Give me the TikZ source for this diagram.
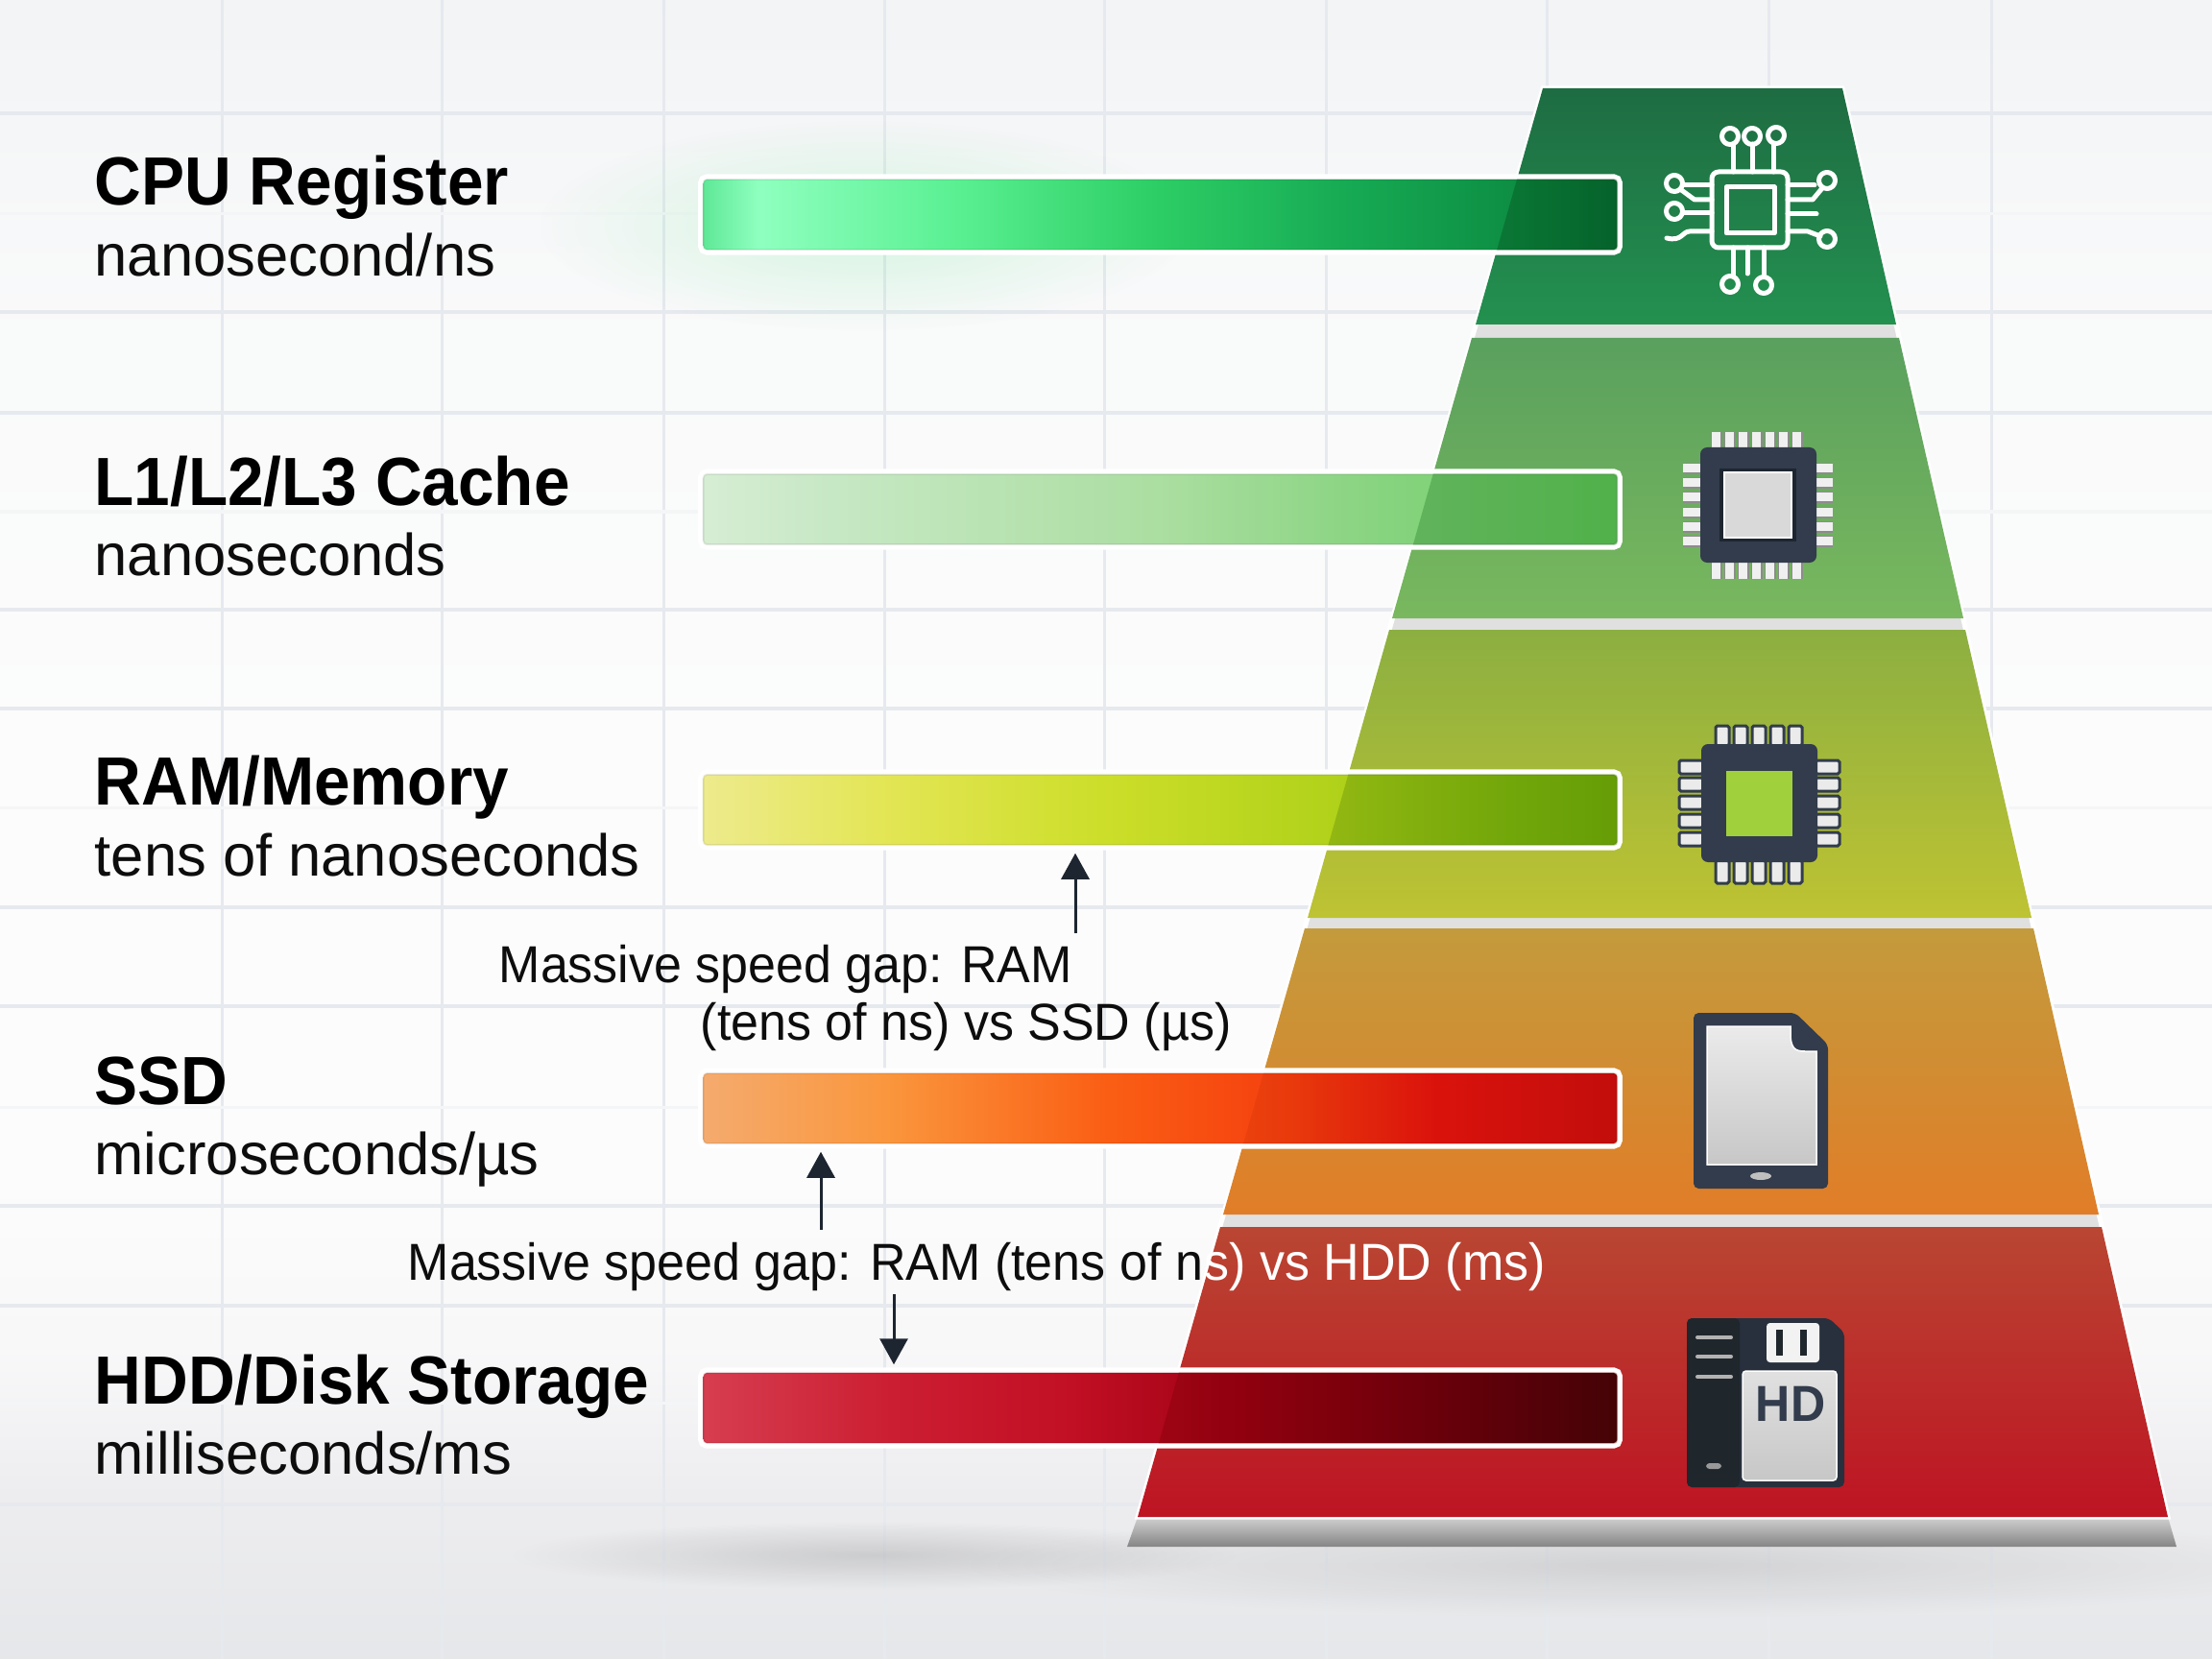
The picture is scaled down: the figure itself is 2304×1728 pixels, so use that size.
\documentclass[tikz,border=0pt]{standalone}
\usepackage{fontspec}
\setmainfont[BoldFeatures={FakeStretch=0.95}]{Liberation Sans}
\newfontfamily\gapfont[FakeStretch=0.96]{Liberation Sans}
\usetikzlibrary{positioning, arrows.meta, calc, fadings}

\definecolor{tier1top}{RGB}{30,108,66}
\definecolor{tier1bot}{RGB}{35,145,80}
\definecolor{tier2top}{RGB}{90,160,94}
\definecolor{tier2bot}{RGB}{121,184,94}
\definecolor{tier3top}{RGB}{140,175,65}
\definecolor{tier3bot}{RGB}{190,195,50}
\definecolor{tier4top}{RGB}{195,155,60}
\definecolor{tier4bot}{RGB}{225,125,40}
\definecolor{tier5top}{RGB}{185,70,50}
\definecolor{tier5bot}{RGB}{190,20,35}
\definecolor{chipdark}{RGB}{50,60,76}
\definecolor{hddblack}{RGB}{31,38,44}
\definecolor{gridline}{RGB}{230,233,238}
\definecolor{inkdark}{RGB}{29,37,48}
\definecolor{chipwindow}{RGB}{160,208,60}
\definecolor{glowgreen}{RGB}{90,230,140}

\tikzfading[name = softspot, inner color = transparent!0, outer color = transparent!100]

\pgfdeclareverticalshading{wallshade}{100bp}{rgb(0bp)=(.9,.905,.915); rgb(25bp)=(.9,.905,.915); rgb(30bp)=(.93,.93,.94); rgb(34bp)=(.97,.97,.975); rgb(40bp)=(.99,.99,.99); rgb(50bp)=(.99,.99,.99); rgb(66bp)=(.975,.978,.98); rgb(75bp)=(.95,.955,.96); rgb(100bp)=(.95,.955,.96)}
\pgfdeclarehorizontalshading{bar1shade}{100bp}{rgb(0bp)=(.37,.91,.59); rgb(25bp)=(.37,.91,.59); rgb(28bp)=(.56,1,.75); rgb(39bp)=(.35,.94,.57); rgb(49.5bp)=(.18,.81,.4); rgb(60bp)=(.09,.67,.33); rgb(70bp)=(.05,.55,.26); rgb(75bp)=(.03,.47,.22); rgb(100bp)=(.03,.47,.22)}
\pgfdeclarehorizontalshading{bar2shade}{100bp}{rgb(0bp)=(.84,.93,.83); rgb(25bp)=(.84,.93,.83); rgb(32bp)=(.78,.91,.77); rgb(50bp)=(.67,.87,.63); rgb(62bp)=(.53,.83,.5); rgb(75bp)=(.43,.82,.39); rgb(100bp)=(.43,.82,.39)}
\pgfdeclarehorizontalshading{bar3shade}{100bp}{rgb(0bp)=(.93,.92,.55); rgb(25bp)=(.93,.92,.55); rgb(35bp)=(.89,.9,.33); rgb(47bp)=(.8,.87,.16); rgb(60bp)=(.69,.82,.1); rgb(69bp)=(.55,.75,.06); rgb(75bp)=(.49,.71,.04); rgb(100bp)=(.49,.71,.04)}
\pgfdeclarehorizontalshading{bar4shade}{100bp}{rgb(0bp)=(.96,.67,.43); rgb(25bp)=(.96,.67,.43); rgb(35bp)=(.98,.59,.24); rgb(47bp)=(.98,.37,.08); rgb(57bp)=(.96,.25,.06); rgb(65bp)=(.9,.08,.06); rgb(75bp)=(.8,.06,.06); rgb(100bp)=(.8,.06,.06)}
\pgfdeclarehorizontalshading{bar5shade}{100bp}{rgb(0bp)=(.84,.24,.31); rgb(25bp)=(.84,.24,.31); rgb(35bp)=(.8,.12,.2); rgb(45bp)=(.76,.06,.14); rgb(55bp)=(.62,0,.08); rgb(65bp)=(.46,0,.06); rgb(75bp)=(.3,.02,.04); rgb(100bp)=(.3,.02,.04)}

\begin{document}
\begin{tikzpicture}[
    x = .01cm,
    y = -.01cm,
    barbox/.style = {
        shade,
        minimum width = 9.51cm,
        minimum height = .73cm,
        inner sep = 0pt,
        rounded corners = 1pt,
        preaction = {draw = white, line width = .11cm},
        postaction = {draw = black, opacity = .07, line width = .02cm}
    },
    headtext/.style = {anchor = base west, inner sep = 0pt, font = \fontsize{20.2}{24}\selectfont\bfseries, text = black},
    subtext/.style = {anchor = base west, inner sep = 0pt, font = \fontsize{17.5}{21}\selectfont, text = black!95},
    gaptext/.style = {anchor = base west, inner sep = 0pt, font = \fontsize{15.4}{18}\selectfont\gapfont, text = black!95},
    gaparrow/.style = {-{Triangle[length = .27cm, width = .29cm]}, draw = inkdark, line width = .03cm, shorten > = .08cm},
    wire/.style = {draw = white, line width = .05cm, line cap = round, line join = round},
    ledbar/.style = {black!30, line width = .04cm, line cap = round},
    pinbar/.style = {fill = black!8, draw = chipdark, line width = .03cm, rounded corners = .5pt}
]

\useasboundingbox (0,0) rectangle (2304,1728);

% 1. Wall with its grid
\shade[shading = wallshade] (0,0) rectangle (2304,1728);
\foreach \gx in {231, 460, 691, 921, 1150, 1381, 1611, 1842, 2074} {
    \draw[gridline, line width = .03cm] (\gx,0) -- (\gx,1728);
}
\foreach \gy in {118, 325, 430, 635, 738, 945, 1048, 1256, 1360, 1567} {
    \draw[gridline, line width = .035cm] (0,\gy) -- (2304,\gy);
}
\foreach \gy in {223, 533, 841, 1153, 1461} {
    \draw[gridline!45, line width = .03cm] (0,\gy) -- (2304,\gy);
}

% 2. Soft shadows on the floor and the glow of the top bar
\fill[black, opacity = .13, path fading = softspot] (910,1620) ellipse [x radius = 380, y radius = 36];
\fill[black, opacity = .1, path fading = softspot] (1720,1630) ellipse [x radius = 720, y radius = 55];
\fill[glowgreen, opacity = .22, path fading = softspot] (900,235) ellipse [x radius = 340, y radius = 110];

% 3. Plinth, and the pale body showing in the gaps between the tiers
\shade[top color = black!18, bottom color = black!48] (1185,1580) -- (2258,1580) -- (2267,1611) -- (1174,1611) -- cycle;
\draw[white, line width = .05cm, fill = black!12] (1607,92) -- (1919,92) -- (2258,1580) -- (1185,1580) -- cycle;

% 4. Tiers with their bars, darker where a bar crosses its tier
\foreach \n/\ya/\al/\ar/\yb/\bl/\br/\ymid/\tint in {
    1/92/1607/1919/338/1537/1975/223.5/.3,
    2/352/1533/1978/644/1450/2045/530.5/.4,
    3/656/1447/2047/956/1362/2116/843.5/.4,
    4/967/1359/2118/1265/1274/2186/1154.5/.2,
    5/1278/1271/2189/1580/1185/2258/1466.5/.35
} {
    \shade[top color = tier\n top, bottom color = tier\n bot] (\al,\ya) -- (\ar,\ya) -- (\br,\yb) -- (\bl,\yb) -- cycle;
    \node[barbox, shading = bar\n shade] (bar\n) at (1208.5,\ymid) {};
    \begin{scope}
        \clip (\al,\ya) -- (\ar,\ya) -- (\br,\yb) -- (\bl,\yb) -- cycle;
        \fill[tier\n top, blend mode = multiply, opacity = \tint, rounded corners = 1pt] (bar\n.south west) rectangle (bar\n.north east);
    \end{scope}
}

% 5. Circuit icon of the registers
\draw[wire, rounded corners = 2pt] (1783,179) rectangle (1862,258);
\draw[wire] (1798,195) rectangle (1848,243);
\foreach \cx/\cy in {1802/142, 1825/142, 1850/141, 1802/296, 1837/297, 1744/191, 1744/220, 1903/188, 1903/249} {
    \draw[wire] (\cx,\cy) circle [radius = .085cm];
}
\draw[wire] (1805,179) -- (1805,150);
\draw[wire] (1825,179) -- (1825,150);
\draw[wire] (1847,179) -- (1847,150);
\draw[wire] (1805,258) -- (1805,288);
\draw[wire] (1820,258) -- (1820,285);
\draw[wire] (1837,258) -- (1837,288);
\draw[wire] (1783,193) -- (1753,193);
\draw[wire] (1783,208) -- (1765,208) -- (1750,197);
\draw[wire] (1783,222) -- (1753,222);
\draw[wire] (1783,241) -- (1760,241) .. controls (1752,241) and (1752,252) .. (1736,248);
\draw[wire] (1862,193) -- (1890,193);
\draw[wire] (1862,208) -- (1888,208) -- (1898,196);
\draw[wire] (1862,223) -- (1892,223);
\draw[wire] (1862,241) -- (1883,241) -- (1896,246);

% 6. Cache chip
\foreach \px in {1788, 1802, 1816, 1830, 1844, 1858, 1872} {
    \fill[black!45] (\px-6,450) rectangle (\px+6,466);
    \fill[black!45] (\px-6,586) rectangle (\px+6,603);
    \fill[black!6] (\px-5,450) rectangle (\px+4,466);
    \fill[black!6] (\px-5,586) rectangle (\px+4,603);
}
\foreach \py in {488, 503, 518, 534, 549, 564} {
    \fill[black!45] (1753,\py-6) rectangle (1771,\py+6);
    \fill[black!45] (1892,\py-6) rectangle (1909,\py+6);
    \fill[black!6] (1753,\py-5) rectangle (1771,\py+4);
    \fill[black!6] (1892,\py-5) rectangle (1909,\py+4);
}
\fill[chipdark, rounded corners = 2pt] (1771,466) rectangle (1892,586);
\fill[inkdark] (1791,488) rectangle (1871,564);
\fill[black!15, draw = white, line width = .02cm] (1796,492) rectangle (1866,560);

% 7. Memory chip
\foreach \px in {1794, 1813, 1832, 1851, 1870} {
    \filldraw[pinbar] (\px-7,756) rectangle (\px+7,777);
    \filldraw[pinbar] (\px-7,896) rectangle (\px+7,920);
}
\foreach \py in {799, 817, 836, 855, 874} {
    \filldraw[pinbar] (1749,\py-7) rectangle (1774,\py+7);
    \filldraw[pinbar] (1891,\py-7) rectangle (1916,\py+7);
}
\fill[chipdark, rounded corners = 2pt] (1772,775) rectangle (1893,898);
\fill[chipwindow] (1798,803) rectangle (1867,871);

% 8. Solid state drive
\fill[chipdark, rounded corners = 1.5pt] (1764,1055) -- (1870,1055) -- (1904,1088) -- (1904,1238) -- (1764,1238) -- cycle;
\shade[top color = black!8, bottom color = black!22] (1778,1069) -- (1865,1069) -- (1865,1080) .. controls (1866,1092) and (1870,1095) .. (1880,1095) -- (1892,1095) -- (1892,1213) -- (1778,1213) -- cycle;
\draw[white, line width = .015cm] (1778,1069) -- (1865,1069) -- (1865,1080) .. controls (1866,1092) and (1870,1095) .. (1880,1095) -- (1892,1095) -- (1892,1213) -- (1778,1213) -- cycle;
\fill[black!25] (1834,1225) ellipse [x radius = 11, y radius = 4];

% 9. Disk drive
\fill[chipdark!80!black, rounded corners = 1.5pt] (1757,1373) -- (1905,1373) -- (1921,1388) -- (1921,1549) -- (1757,1549) -- cycle;
\fill[hddblack, rounded corners = 1.5pt] (1757,1373) rectangle (1812,1549);
\foreach \ly in {1393, 1413, 1434} {
    \draw[ledbar] (1768,\ly) -- (1803,\ly);
}
\fill[black!40, rounded corners = 1pt] (1777,1524) rectangle (1793,1530);
\fill[black!5, rounded corners = 1pt] (1840,1378) rectangle (1895,1419);
\fill[hddblack] (1850,1385) rectangle (1857,1412);
\fill[hddblack] (1875,1385) rectangle (1882,1412);
\shade[top color = black!12, bottom color = black!22, draw = white, line width = .015cm, rounded corners = 1pt] (1815,1428) rectangle (1913,1542);
\node[inner sep = 0pt, font = \fontsize{15}{18}\selectfont\bfseries, text = chipdark] (hdtag) at (1865,1462) {HD};

% 10. Names and speeds of the levels
\foreach \n/\ya/\yb/\head/\speed in {
    1/214/288/{CPU Register}/{nanosecond/ns},
    2/527/600/{L1/L2/L3 Cache}/{nanoseconds},
    3/838/912/{RAM/Memory}/{tens of nanoseconds},
    4/1150/1223/{SSD}/{microseconds/µs},
    5/1462/1535/{HDD/Disk Storage}/{milliseconds/ms}
} {
    \node[headtext] (head\n) at (98,\ya) {\head};
    \node[subtext] (speed\n) at (98,\yb) {\speed};
}

% 11. Notes on the speed gaps
\node[gaptext] (gapa) at (519,1023) {Massive speed gap: RAM};
\node[gaptext] (gapb) at (729,1083) {(tens of ns) vs SSD (µs)};
\node[gaptext] (gapc) at (424,1333) {Massive speed gap: RAM (tens of n};
\node[gaptext, text = white] (gapd) at (gapc.base east) {s) vs HDD (ms)};

\coordinate (tailone) at (1120,972);
\coordinate (tailtwo) at (855,1281);
\coordinate (tailthree) at (931,1348);
\draw[gaparrow] (tailone) -- (tailone |- bar3.south);
\draw[gaparrow] (tailtwo) -- (tailtwo |- bar4.south);
\draw[gaparrow] (tailthree) -- (tailthree |- bar5.north);

\end{tikzpicture}
\end{document}
